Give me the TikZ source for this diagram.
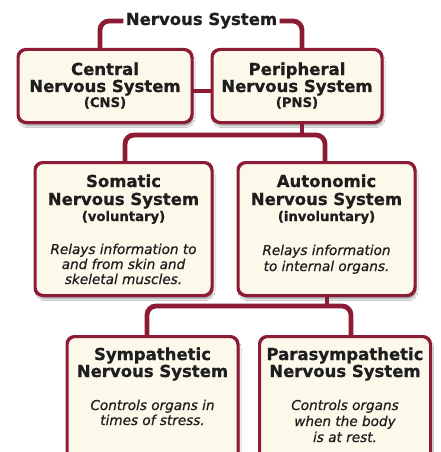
\documentclass[tikz,border=0pt]{standalone}
\usepackage{fontspec}
\setmainfont{DejaVu Sans}[BoldFeatures={FakeBold=0.9}, ItalicFeatures={FakeBold=0.7}]
\usetikzlibrary{shadows.blur}
\definecolor{nsred}{HTML}{8C1C36}
\definecolor{nsfill}{HTML}{FCF8EA}
\definecolor{nstext}{HTML}{1E1E1E}
\tikzset{
  box/.style={draw=nsred, line width=2pt, fill=nsfill, rounded corners=8pt,
    inner sep=0pt,
    blur shadow={shadow xshift=1.5pt, shadow yshift=-3.5pt, shadow blur steps=6, shadow opacity=45}},
  conn/.style={draw=nsred, line width=4.8pt, rounded corners=9pt},
  headline/.style={anchor=base, inner sep=0pt, text=nstext, font=\fontsize{16.5}{17.5}\selectfont\bfseries},
  subline/.style={anchor=base, inner sep=0pt, text=nstext, font=\fontsize{13.2}{15}\selectfont\bfseries},
  descline/.style={anchor=base, inner sep=0pt, text=nstext, font=\fontsize{13.6}{15}\selectfont\itshape},
}
\begin{document}
\begin{tikzpicture}[x=1pt,y=-1pt]
\useasboundingbox (0,0) rectangle (440,452);
\clip (0,0) rectangle (440,452);
\fill[white] (0,0) rectangle (440,452);

% boxes
\node[box, minimum width=173pt, minimum height=72pt] (cns) at (105,86) {};
\node[box, minimum width=169pt, minimum height=72pt] (pns) at (297,86) {};
\node[box, minimum width=176pt, minimum height=132pt] (som) at (123.5,229) {};
\node[box, minimum width=176pt, minimum height=132pt] (aut) at (326.5,229) {};
\node[box, minimum width=170pt, minimum height=140pt] (sym) at (152.5,407) {};
\node[box, minimum width=170pt, minimum height=140pt] (par) at (345,407) {};

% title
\node[headline, outer sep=2.5pt] (title) at (201.5,25) {Nervous System};

% connector coordinates
\coordinate (tl) at (100,21);
\coordinate (tr) at (302,21);
\coordinate (j1) at (302,135);
\coordinate (j1l) at (125,135);
\coordinate (j1r) at (325,135);
\coordinate (j2) at (327,306);
\coordinate (j2l) at (147,306);
\coordinate (j2r) at (351,306);

% connectors
\draw[conn] (cns.north -| tl) -- (tl) -- (title.west |- tl);
\draw[conn] (title.east |- tr) -- (tr) -- (pns.north -| tr);
\draw[conn] (cns.east |- 0,91) -- (pns.west |- 0,91);
\draw[conn] (pns.south -| j1) -- (j1);
\draw[conn] (som.north -| j1l) -- (j1l) -- (j1r) -- (aut.north -| j1r);
\draw[conn] (aut.south -| j2) -- (j2);
\draw[conn] (sym.north -| j2l) -- (j2l) -- (j2r) -- (par.north -| j2r);

% redraw box outlines over connector ends
\foreach \b in {cns,pns,som,aut,sym,par}{
  \draw[draw=nsred, line width=2pt, rounded corners=8pt] (\b.south west) rectangle (\b.north east);
}

% CNS
\node[headline] (cns1) at (105,75) {Central};
\node[headline] (cns2) at (105,92) {Nervous System};
\node[subline] (cns3) at (105,107) {(CNS)};
% PNS
\node[headline] (pns1) at (297,75) {Peripheral};
\node[headline] (pns2) at (297,92) {Nervous System};
\node[subline] (pns3) at (297,107) {(PNS)};
% Somatic
\node[headline] (som1) at (123.5,187) {Somatic};
\node[headline] (som2) at (123.5,205) {Nervous System};
\node[subline] (som3) at (123.5,221) {(voluntary)};
\node[descline] (som4) at (123.5,254) {Relays information to};
\node[descline] (som5) at (123.5,269) {and from skin and};
\node[descline] (som6) at (123.5,284) {skeletal muscles.};
% Autonomic
\node[headline] (aut1) at (326.5,187) {Autonomic};
\node[headline] (aut2) at (326.5,205) {Nervous System};
\node[subline] (aut3) at (326.5,221) {(involuntary)};
\node[descline] (aut4) at (326.5,255) {Relays information};
\node[descline] (aut5) at (326.5,271) {to internal organs.};
% Sympathetic
\node[headline] (sym1) at (152.5,360) {Sympathetic};
\node[headline] (sym2) at (152.5,377) {Nervous System};
\node[descline] (sym3) at (152.5,410) {Controls organs in};
\node[descline] (sym4) at (152.5,425) {times of stress.};
% Parasympathetic
\node[headline] (par1) at (345,360) {Parasympathetic};
\node[headline] (par2) at (345,377) {Nervous System};
\node[descline] (par3) at (345,410) {Controls organs};
\node[descline] (par4) at (345,426) {when the body};
\node[descline] (par5) at (345,442) {is at rest.};
\end{tikzpicture}
\end{document}
